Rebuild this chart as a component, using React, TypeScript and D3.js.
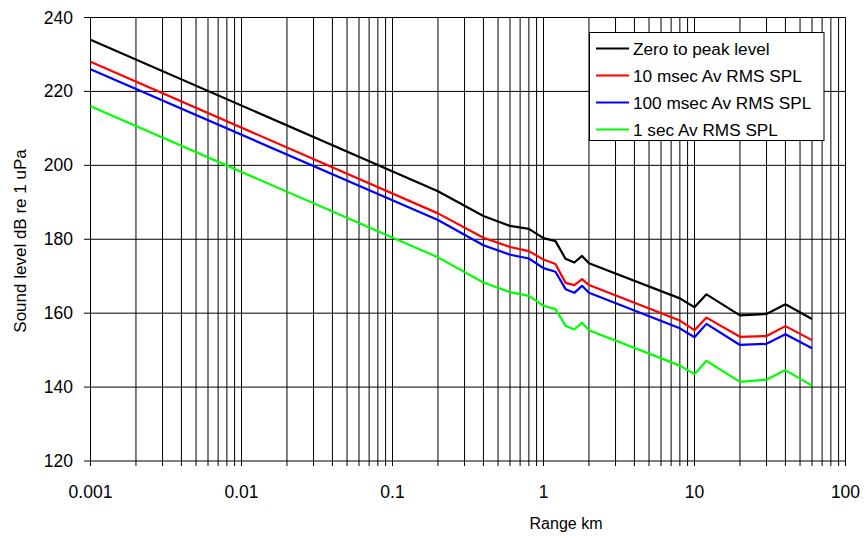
import React from "react";
import * as d3 from "d3";

// range in km and levels in dB re 1 uPa
const range = [0.001, 0.2, 0.4, 0.6, 0.8, 1.0, 1.2, 1.4, 1.6, 1.8, 2.0, 8, 10, 12, 20, 30, 40, 60];
const zeroToPeak = [234, 193, 186.3, 183.6, 182.8, 180.3, 179.5, 174.7, 173.7, 175.5, 173.5, 164, 161.6, 165.1, 159.4, 159.8, 162.4, 158.4];
const rms10ms = [228, 187, 180.4, 177.9, 176.8, 174.5, 173.3, 168.2, 167.6, 169.2, 167.6, 158, 155.4, 158.8, 153.6, 153.8, 156.5, 152.7];
const rms100ms = [226, 185.2, 178.4, 175.8, 174.8, 172.2, 171.2, 166.5, 165.5, 167.4, 165.5, 155.9, 153.5, 157.1, 151.4, 151.7, 154.3, 150.5];
const rms1s = [216, 175.1, 168.3, 165.7, 164.7, 162, 161.1, 156.6, 155.6, 157.4, 155.4, 145.8, 143.5, 147.1, 141.4, 142, 144.6, 140.4];

const seriesNames = ["Zero to peak level", "10 msec Av RMS SPL", "100 msec Av RMS SPL", "1 sec Av RMS SPL"];
const seriesColors = ["#000000", "#ff0000", "#0000ff", "#00ff00"];
const xTickLabels = ["0.001", "0.01", "0.1", "1", "10", "100"];
const yTicks = [120, 140, 160, 180, 200, 220, 240];

const W = 866;
const H = 538;
const font = "'Liberation Sans', Arial, Helvetica, sans-serif";

const App = () => {
  const x = d3.scaleLog().domain([0.001, 100]).range([90.5, 845.5]);
  const y = d3.scaleLinear().domain([120, 240]).range([461, 17.5]);

  const allSeries = [zeroToPeak, rms10ms, rms100ms, rms1s];

  const line = d3
    .line<number>()
    .x((d, i) => x(range[i]))
    .y(d => y(d));

  // every minor position 1..9 per decade
  const minor: number[] = [];
  for (let e = -3; e < 2; e++) {
    for (let m = 1; m < 10; m++) minor.push(m * Math.pow(10, e));
  }
  minor.push(100);

  const legendX = 589.5;
  const legendY = 32.5;

  return (
    <svg width={W} height={H} style={{ position: "absolute", left: 0, top: 0, background: "#fff" }}>
      <g stroke="#000" strokeWidth={1}>
        {minor.map((v, i) => (
          <line key={"v" + i} x1={x(v)} x2={x(v)} y1={y(240)} y2={y(120) + 5} />
        ))}
        {yTicks.map(v => (
          <line key={"h" + v} x1={84} x2={x(100)} y1={y(v)} y2={y(v)} />
        ))}
      </g>

      <g fill="none" strokeWidth={2.2} strokeLinejoin="round">
        {allSeries.map((s, i) => (
          <path key={i} d={line(s) || ""} stroke={seriesColors[i]} />
        ))}
      </g>

      <g fontFamily={font} fontSize={17.5} fill="#000">
        {yTicks.map(v => (
          <text key={"yl" + v} x={73} y={y(v) + 6} textAnchor="end">
            {v}
          </text>
        ))}
        {xTickLabels.map(t => (
          <text key={"xl" + t} x={x(+t)} y={498} textAnchor="middle">
            {t}
          </text>
        ))}
      </g>

      <text x={566} y={529} fontFamily={font} fontSize={16} textAnchor="middle">
        Range km
      </text>
      <text
        transform={`translate(26,${241}) rotate(-90)`}
        fontFamily={font}
        fontSize={17}
        textAnchor="middle"
      >
        Sound level dB re 1 uPa
      </text>

      <g>
        <rect x={legendX} y={legendY} width={234.5} height={108} fill="#fff" stroke="#000" strokeWidth={1} />
        {seriesNames.map((n, i) => {
          const ry = 48.5 + i * 27;
          return (
            <g key={n}>
              <line x1={596} x2={629} y1={ry} y2={ry} stroke={seriesColors[i]} strokeWidth={2.2} />
              <text x={633} y={ry + 6.5} fontFamily={font} fontSize={17.2}>
                {n}
              </text>
            </g>
          );
        })}
      </g>
    </svg>
  );
};

export default App;
